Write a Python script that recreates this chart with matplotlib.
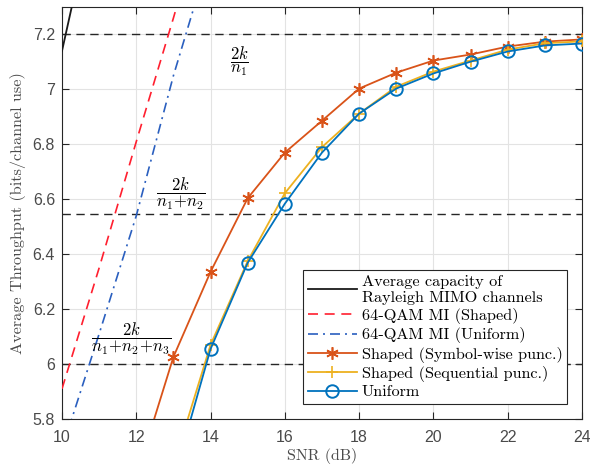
import matplotlib
matplotlib.use("Agg")
import matplotlib.pyplot as plt
import numpy as np

plt.rcParams['mathtext.fontset'] = 'cm'
plt.rcParams['axes.unicode_minus'] = False

# Data
snr_cap = [10, 11]
cap = [7.14, 7.75]

snr_mi = [10, 11, 12, 13, 14]
mi_shaped = [5.91, 6.35, 6.81, 7.26, 7.73]
mi_uniform = [5.69, 6.11, 6.54, 7.05, 7.50]

snr_sim = [12, 13, 14, 15, 16, 17, 18, 19, 20, 21, 22, 23, 24]
shaped_sym = [5.59, 6.026, 6.336, 6.604, 6.770, 6.886, 7.003, 7.061, 7.105, 7.127, 7.156, 7.174, 7.182]
snr_sim2 = [13, 14, 15, 16, 17, 18, 19, 20, 21, 22, 23, 24]
shaped_seq = [5.63, 6.07, 6.375, 6.622, 6.79, 6.912, 7.01, 7.065, 7.105, 7.145, 7.168, 7.175]
uniform = [5.578, 6.055, 6.369, 6.584, 6.770, 6.912, 7.003, 7.058, 7.101, 7.138, 7.160, 7.167]

rate_levels = [7.2, 6.545, 6.0]

xticks = [10, 12, 14, 16, 18, 20, 22, 24]
yticks = [5.8, 6.0, 6.2, 6.4, 6.6, 6.8, 7.0, 7.2]
ytick_labels = ['5.8', '6', '6.2', '6.4', '6.6', '6.8', '7', '7.2']

fig = plt.figure(figsize=(5.9, 4.7), dpi=100)
ax = fig.add_axes([62/590, (470-419)/470, 520/590, 412/470])

serif = 'cmr10'
tickfont = 'Liberation Sans'
txtgrey = '#4a4a4a'

for lv in rate_levels:
    ax.axhline(lv, color='#262626', ls=(0, (6, 4)), lw=1.0, zorder=2)

ax.plot(snr_cap, cap, color='#1a1a1a', lw=1.3, label='Average capacity of\nRayleigh MIMO channels', zorder=3)
ax.plot(snr_mi, mi_shaped, color='#ff1f2f', ls=(0, (6, 4)), lw=1.2, label='64-QAM MI (Shaped)', zorder=3)
ax.plot(snr_mi, mi_uniform, color='#2a5fbf', ls=(0, (6, 3, 1.2, 3)), lw=1.2, label='64-QAM MI (Uniform)', zorder=3)
ax.plot(snr_sim, shaped_sym, color='#D95319', lw=1.3, marker=(6, 2, 0), ms=9, mew=1.2,
        label='Shaped (Symbol-wise punc.)', zorder=4)
ax.plot(snr_sim2, shaped_seq, color='#EDB120', lw=1.3, marker='+', ms=9, mew=1.2,
        label='Shaped (Sequential punc.)', zorder=4)
ax.plot(snr_sim2, uniform, color='#0072BD', lw=1.3, marker='o', ms=9, mew=1.4, mfc='none',
        label='Uniform', zorder=5)

ax.text(14.79, 7.10, r'$\dfrac{2k}{n_1}$', fontsize=12, ha='center', va='center')
ax.text(13.2, 6.62, r'$\dfrac{2k}{n_1\!+\!n_2}$', fontsize=12, ha='center', va='center')
ax.text(11.86, 6.09, r'$\dfrac{2k}{n_1\!+\!n_2\!+\!n_3}$', fontsize=12, ha='center', va='center')

ax.set_xlim(10, 24)
ax.set_ylim(5.8, 7.3)
ax.set_xticks(xticks)
ax.set_yticks(yticks)
ax.set_yticklabels(ytick_labels)
for lab in ax.get_xticklabels() + ax.get_yticklabels():
    lab.set_fontfamily(tickfont)
    lab.set_fontsize(11.5)
    lab.set_color(txtgrey)
ax.grid(True, color='#e3e3e3', lw=0.8, zorder=0)
ax.set_axisbelow(True)
ax.tick_params(direction='in', top=True, right=True, length=5, color='#262626')
ax.tick_params(axis='x', pad=8)
ax.tick_params(axis='y', pad=5)
for sp in ax.spines.values():
    sp.set_color('#262626')
    sp.set_linewidth(0.8)

ax.set_xlabel('SNR (dB)', fontfamily=serif, fontsize=11.5, labelpad=2, color=txtgrey)
ax.set_ylabel('Average Throughput (bits/channel use)', fontfamily=serif, fontsize=11.7,
              labelpad=5, color=txtgrey)

leg = ax.legend(loc='lower right', prop={'family': serif, 'size': 11.7}, frameon=True, fancybox=False,
                edgecolor='#262626', framealpha=1, borderpad=0.3, handlelength=3.0,
                handletextpad=0.3, labelspacing=0.2, borderaxespad=0.9)
leg.get_frame().set_linewidth(0.8)

fig.savefig('out.png', dpi=100)
